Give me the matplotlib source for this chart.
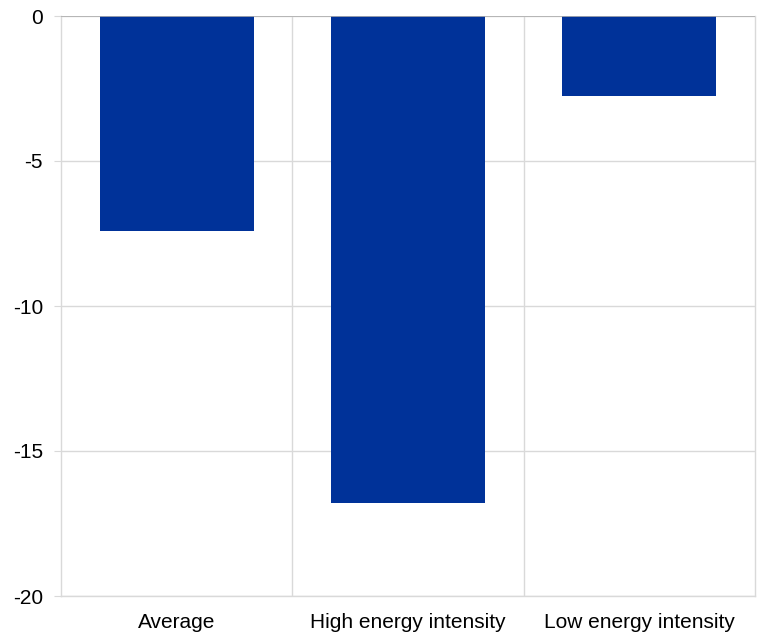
import numpy as np
import matplotlib.pyplot as plt

categories = ['Average', 'High energy intensity', 'Low energy intensity']
values = [-7.4, -16.8, -2.75]
yticks = [-20, -15, -10, -5, 0]
ytick_labels = ['-20', '-15', '-10', '-5', '0']

plt.rcParams['font.family'] = ['Liberation Sans', 'DejaVu Sans']

fig = plt.figure(figsize=(7.6, 6.33), dpi=100)
ax = fig.add_axes([61/760, 37/633, 694/760, 580/633])

x = np.arange(len(categories))
ax.bar(x, values, width=0.667, color='#003299', zorder=3)

ax.set_xlim(-0.5, 2.5)
ax.set_ylim(-20, 0)
ax.set_yticks(yticks)
ax.set_yticklabels(ytick_labels)
ax.set_xticks(x)
ax.set_xticklabels(categories)
ax.set_xticks([0.5, 1.5], minor=True)

gridc = '#d9d9d9'
ax.grid(axis='y', which='major', color=gridc, linewidth=1, zorder=0)
ax.grid(axis='x', which='minor', color=gridc, linewidth=1, zorder=0)
ax.axhline(0, color='#b0b0b0', linewidth=1.2, zorder=4)

for s in ['left', 'right', 'bottom', 'top']:
    ax.spines[s].set_color(gridc)
    ax.spines[s].set_linewidth(1)
ax.spines['top'].set_visible(False)

ax.tick_params(axis='y', length=5, color=gridc, pad=8, labelsize=15)
ax.tick_params(axis='x', which='both', length=0, pad=12, labelsize=15)

fig.savefig('out.png', dpi=100)
